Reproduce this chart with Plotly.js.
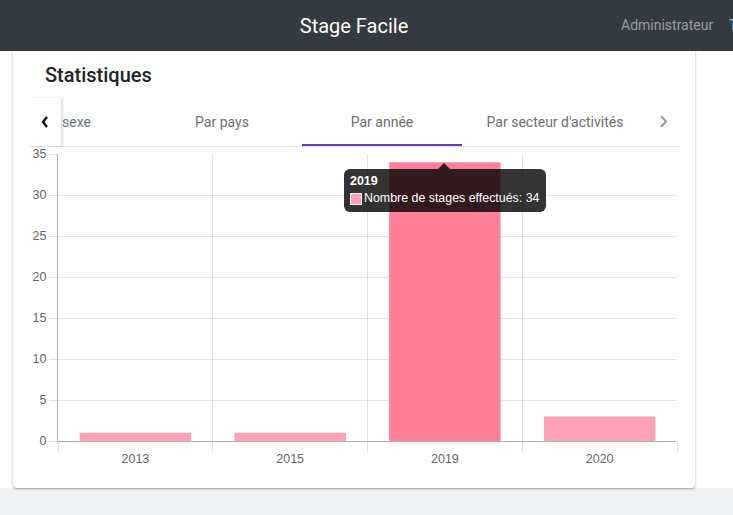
<!DOCTYPE html>
<html>
<head>
<meta charset="utf-8">
<script src="https://cdn.plot.ly/plotly-3.0.1.min.js"></script>
<style>
  html, body { margin:0; padding:0; width:733px; height:515px; overflow:hidden; background:#fff; font-family:Roboto, "Noto Sans", sans-serif; }
  .abs { position:absolute; }
  #header { left:0; top:0; width:733px; height:51px; background:#343a40; }
  #brand { left:0; width:708px; top:14px; text-align:center; color:#fff; font-size:20px; }
  #admin { left:621px; top:17px; color:#9a9da0; font-size:14px; }
  #tnav { left:729px; top:17px; color:#8fb3d0; font-size:14px; }
  #bottom { left:0; top:488px; width:733px; height:27px; background:#f1f2f4; }
  #card { left:13px; top:40px; width:682px; height:448px; background:#fff; border-radius:4px;
          box-shadow:0 1px 3px rgba(0,0,0,0.25), 0 1px 1px rgba(0,0,0,0.12); }
  #title { left:45px; top:63px; font-size:20px; font-weight:500; color:#212529; }
  .tab { top:114px; font-size:14px; color:#6f6f6f; text-align:center; }
  #tabline { left:30px; top:146px; width:650px; height:1px; background:#e2e2e2; }
  #ink { left:302px; top:144px; width:160px; height:2px; background:#673ab7; }
  #lbtn { left:30px; top:98px; width:31px; height:48px; background:#fff; box-shadow:2px 0 2px rgba(0,0,0,0.12); }
  #plot { left:0; top:0; width:733px; height:515px; }
  #tip { left:344px; top:169px; width:202px; height:43px; background:rgba(0,0,0,0.8); border-radius:6px;
         font-family:"Liberation Sans", Arial, sans-serif; font-size:12.4px; color:#fff; }
  #caret { left:438px; top:163px; width:0; height:0; border-left:6px solid transparent; border-right:6px solid transparent;
           border-bottom:6px solid rgba(0,0,0,0.8); }
  #tipt { left:6px; top:5px; font-weight:bold; }
  #sw { left:6px; top:24px; width:10px; height:10px; background:#ffa1b5; border:1px solid #fff; }
  #tipb { left:20px; top:22px; white-space:nowrap; }
</style>
</head>
<body>
<div id="bottom" class="abs"></div>
<div id="card" class="abs"></div>
<div id="header" class="abs"></div>
<div id="brand" class="abs">Stage Facile</div>
<div id="admin" class="abs">Administrateur</div>
<div id="tnav" class="abs">T</div>
<div id="title" class="abs">Statistiques</div>
<div id="tabline" class="abs"></div>
<div class="abs tab" style="left:62px;color:#6b7480;">sexe</div>
<div class="abs tab" style="left:152px;width:140px;">Par pays</div>
<div class="abs tab" style="left:302px;width:160px;">Par année</div>
<div class="abs tab" style="left:475px;width:160px;">Par secteur d'activités</div>
<svg class="abs" style="left:658px;top:114px;" width="12" height="16"><polyline points="3,2 8,7.5 3,13" fill="none" stroke="#999" stroke-width="2"/></svg>
<div id="ink" class="abs"></div>
<div id="lbtn" class="abs"><svg class="abs" style="left:10px;top:17px;" width="12" height="14"><polyline points="7,2 3,7 7,12" fill="none" stroke="#111" stroke-width="2.4"/></svg></div>
<div id="plot" class="abs"></div>
<div id="caret" class="abs"></div>
<div id="tip" class="abs">
  <div id="tipt" class="abs">2019</div>
  <div id="sw" class="abs"></div>
  <div id="tipb" class="abs">Nombre de stages effectués: 34</div>
</div>
<script>
const years = ['2013', '2015', '2019', '2020'];
const stages = [1, 1, 34, 3];
const seriesName = 'Nombre de stages effectués';
const highlighted = '2019';

const colors = years.map(y => y === highlighted ? '#ff8099' : '#ffa1b5');

const trace = {
  type: 'bar',
  x: years,
  y: stages,
  name: seriesName,
  width: 0.72,
  marker: { color: colors, line: { width: 0 } },
  hoverinfo: 'none'
};

const axisFont = { family: '"Liberation Sans", Arial, sans-serif', size: 12.5, color: '#666' };

const layout = {
  width: 733, height: 515,
  margin: { l: 58, r: 56, t: 154, b: 74 },
  paper_bgcolor: 'rgba(0,0,0,0)',
  plot_bgcolor: 'rgba(0,0,0,0)',
  showlegend: false,
  hovermode: false,
  xaxis: {
    type: 'category', range: [-0.5, 3.5], tickson: 'boundaries',
    showgrid: true, gridcolor: 'rgba(0,0,0,0.1)', gridwidth: 1,
    ticks: 'outside', ticklen: 10, tickcolor: 'rgba(0,0,0,0.12)',
    ticklabelstandoff: 6,
    showline: true, linecolor: 'rgba(0,0,0,0.3)', linewidth: 1,
    zeroline: false, tickfont: axisFont
  },
  yaxis: {
    range: [0, 35], dtick: 5, tick0: 0,
    showgrid: true, gridcolor: 'rgba(0,0,0,0.1)', gridwidth: 1,
    ticks: 'outside', ticklen: 8, tickcolor: 'rgba(0,0,0,0.12)',
    showline: true, linecolor: 'rgba(0,0,0,0.3)', linewidth: 1,
    zeroline: false, tickfont: axisFont
  }
};

Plotly.newPlot('plot', [trace], layout, { displayModeBar: false, staticPlot: true });
</script>
</body>
</html>
